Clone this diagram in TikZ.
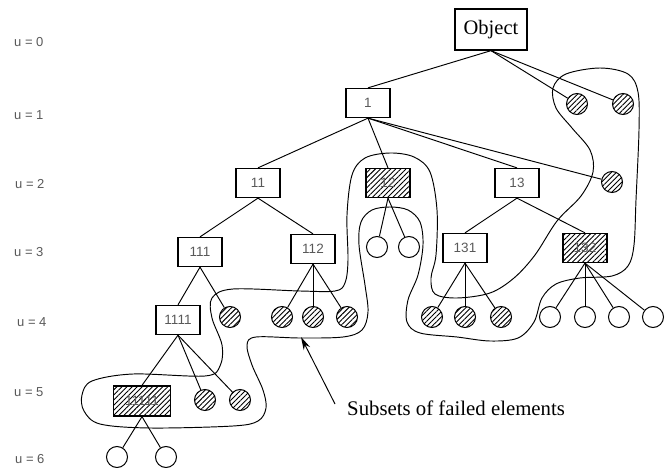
\documentclass[tikz,border=0pt]{standalone}
\usepackage{fontspec}
\setmainfont{Liberation Serif}
\newfontfamily\sansf{Liberation Sans}
\usetikzlibrary{patterns.meta,arrows.meta}
\definecolor{lblgray}{gray}{0.35}
\tikzset{
  box/.style={draw, line width=1.3pt, minimum width=44pt, minimum height=29pt, inner sep=0pt,
    font=\sansf\fontsize{13.5}{15}\selectfont, text=lblgray},
  hbox/.style={box, pattern={Lines[angle=45,distance=3.6pt,line width=0.9pt]}},
  leaf/.style={draw, circle, minimum size=21pt, inner sep=0pt, line width=1pt},
  hleaf/.style={leaf, pattern={Lines[angle=45,distance=3.6pt,line width=0.9pt]}},
  edge/.style={line width=0.95pt},
  lvl/.style={font=\sansf\fontsize{13}{15}\selectfont, text=lblgray, anchor=west, inner sep=0pt},
  contour/.style={line width=0.95pt},
  bigtext/.style={font=\fontsize{20.8}{24}\selectfont, inner sep=0pt}
}
\begin{document}
\begin{tikzpicture}[x=1pt,y=-1pt]
\useasboundingbox (0,0) rectangle (670,468);
% level labels
\node[lvl] (u0) at (14,42) {u = 0};
\node[lvl] (u1) at (14,115) {u = 1};
\node[lvl] (u2) at (15,184) {u = 2};
\node[lvl] (u3) at (14,252) {u = 3};
\node[lvl] (u4) at (17,322) {u = 4};
\node[lvl] (u5) at (14,392) {u = 5};
\node[lvl] (u6) at (15,459) {u = 6};
% nodes
\node[box, minimum width=72pt, minimum height=41pt, font=\fontsize{20.5}{24}\selectfont, text=black] (obj) at (491,29.5) {Object};
\node[box] (n1) at (368,103) {1};
\node[hleaf] (c1a) at (577,104) {};
\node[hleaf] (c1b) at (623,104) {};
\node[box] (n11) at (258,183) {11};
\node[hbox] (n12) at (388,183) {12};
\node[box] (n13) at (517,183) {13};
\node[hleaf] (c1c) at (612,182) {};
\node[box] (n111) at (200,252) {111};
\node[box] (n112) at (313,249) {112};
\node[leaf] (c12a) at (377,247) {};
\node[leaf] (c12b) at (409,247) {};
\node[box] (n131) at (465,248) {131};
\node[hbox] (n132) at (585,248) {132};
\node[box] (n1111) at (178,320) {1111};
\node[hleaf] (c111) at (230,317) {};
\node[hleaf] (c112a) at (282,317) {};
\node[hleaf] (c112b) at (313,317) {};
\node[hleaf] (c112c) at (347,317) {};
\node[hleaf] (c131a) at (432,317) {};
\node[hleaf] (c131b) at (465,317) {};
\node[hleaf] (c131c) at (501,317) {};
\node[leaf] (c132a) at (550,317) {};
\node[leaf] (c132b) at (585,317) {};
\node[leaf] (c132c) at (619,317) {};
\node[leaf] (c132d) at (653,317) {};
\node[hbox, minimum width=57pt, minimum height=30pt] (n11111) at (142,401) {11111};
\node[hleaf] (c1111a) at (205,400) {};
\node[hleaf] (c1111b) at (240,400) {};
\node[leaf] (c6a) at (117,457) {};
\node[leaf] (c6b) at (166,457) {};
% edges
\draw[edge] (obj.south) -- (n1.north);
\draw[edge] (obj.south) -- (c1a);
\draw[edge] (obj.south) -- (c1b);
\draw[edge] (n1.south) -- (n11.north);
\draw[edge] (n1.south) -- (n12.north);
\draw[edge] (n1.south) -- (n13.north);
\draw[edge] (n1.south) -- (c1c);
\draw[edge] (n11.south) -- (n111.north);
\draw[edge] (n11.south) -- (n112.north);
\draw[edge] (n12.south) -- (c12a);
\draw[edge] (n12.south) -- (c12b);
\draw[edge] (n13.south) -- (n131.north);
\draw[edge] (n13.south) -- (n132.north);
\draw[edge] (n111.south) -- (n1111.north);
\draw[edge] (n111.south) -- (c111);
\draw[edge] (n112.south) -- (c112a);
\draw[edge] (n112.south) -- (c112b);
\draw[edge] (n112.south) -- (c112c);
\draw[edge] (n131.south) -- (c131a);
\draw[edge] (n131.south) -- (c131b);
\draw[edge] (n131.south) -- (c131c);
\draw[edge] (n132.south) -- (c132a);
\draw[edge] (n132.south) -- (c132b);
\draw[edge] (n132.south) -- (c132c);
\draw[edge] (n132.south) -- (c132d);
\draw[edge] (n1111.south) -- (n11111.north);
\draw[edge] (n1111.south) -- (c1111a);
\draw[edge] (n1111.south) -- (c1111b);
\draw[edge] (n11111.south) -- (c6a);
\draw[edge] (n11111.south) -- (c6b);
% contour of failed subsets
\draw[contour] plot[smooth cycle, tension=0.55] coordinates {
(600,68) (628,74) (638,92) (639,130) (636,200) (634,245) (628,266) (612,276)
(580,278) (556,284) (542,298) (534,322) (518,338) (490,341) (457,337) (420,333)
(407,322) (408,300) (418,275) (423,245) (420,222) (408,210) (390,207) (372,210)
(361,222) (359,245) (365,285) (368,312) (362,330) (343,337) (300,338) (256,337)
(247,345) (252,365) (263,390) (266,408) (258,421) (233,426) (150,428) (100,424)
(84,411) (82,395) (92,381) (133,374) (205,376) (220,366) (222,345) (212,318)
(212,298) (233,289) (300,291) (335,291) (345,283) (348,260) (347,215) (352,175)
(365,158) (390,153) (414,157) (430,172) (437,210) (436,255) (431,278) (435,294)
(457,298) (490,293) (514,278) (535,255) (557,221) (581,196) (593,172) (590,150)
(572,128) (556,108) (553,88) (566,74)};
% annotation
\node[bigtext, anchor=west] (lab) at (347,408) {Subsets of failed elements};
\coordinate (arS) at (335,404);
\coordinate (arE) at (301,337);
\draw[edge, -{Stealth[length=13pt,width=7pt]}] (arS) -- (arE);
\end{tikzpicture}
\end{document}
